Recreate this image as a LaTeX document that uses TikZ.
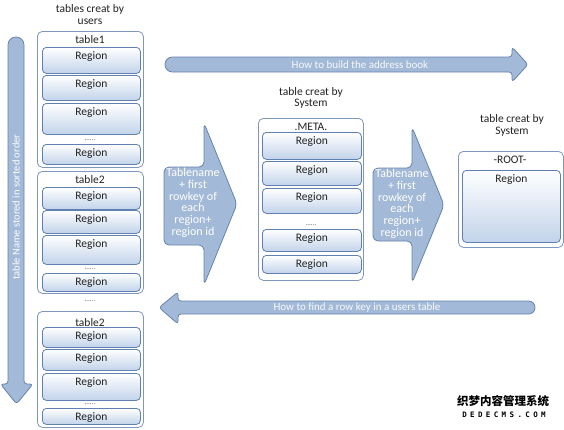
\documentclass[tikz,border=0pt]{standalone}
\usepackage{fontspec}
\setmainfont{Carlito}
\newfontfamily\cjkfont{Noto Sans CJK SC}
\newfontfamily\wmfont[LetterSpace=45]{DejaVu Sans Mono}
\definecolor{arrfill}{HTML}{A3B9D8}
\definecolor{arrdraw}{HTML}{6582AE}
\definecolor{regbot}{HTML}{C2D3EA}
\definecolor{regdraw}{HTML}{5F80B0}
\definecolor{tabdraw}{HTML}{7D97C0}
\definecolor{txt}{HTML}{222222}
\tikzset{
  tabbox/.style={draw=tabdraw, fill=white, rounded corners=5pt, line width=0.8pt, inner sep=0pt, anchor=north west},
  regbox/.style={draw=regdraw, top color=white, bottom color=regbot, rounded corners=4pt, line width=0.8pt, inner sep=0pt, anchor=north west},
  lbl/.style={font=\fontsize{11.5}{12}\selectfont, text=txt, inner sep=0pt},
  dotlbl/.style={font=\fontsize{7}{7}\selectfont, text=txt!80, inner sep=0pt},
  bigarrow/.style={draw=arrdraw, fill=arrfill, line width=0.8pt},
  arrtext/.style={font=\fontsize{12}{11.7}\selectfont, text=white, inner sep=0pt, align=center},
  thintext/.style={font=\fontsize{11}{12}\selectfont, text=white!92!arrfill, inner sep=0pt},
}
\newcommand\tbl[5]{\node[tabbox, minimum width=#4, minimum height=#5] (#1) at (#2,#3) {};}
\newcommand\rgn[5]{\node[regbox, minimum width=#4, minimum height=#5] (#1) at (#2,#3) {};
  \node[lbl] (#1t) at ([yshift=-10pt]#1.north) {Region};}
\begin{document}
\begin{tikzpicture}[x=1pt,y=-1pt]
\useasboundingbox (0,0) rectangle (564,429);

% ---------- left vertical arrow ----------
\draw[bigarrow, rounded corners=7.9pt] (8,200) -- (8,37) -- (24,37) -- (24,200)
  [rounded corners=3pt] -- (24,384) -- (33,384) -- (16.5,404) -- (0.5,384) -- (8,384) -- cycle;
\node[arrtext, font=\fontsize{10.5}{12}\selectfont, rotate=90] (vtext) at (16,207) {table Name stored in sorted order};

% ---------- titles ----------
\node[lbl, align=center] (title1) at (90,15) {tables creat by\\users};
\node[lbl, align=center, font=\fontsize{11.5}{11}\selectfont] (title2) at (311,97.5) {table creat by\\System};
\node[lbl, align=center] (title3) at (512,125) {table creat by\\System};

% ---------- table1 ----------
\tbl{tab1}{37}{31}{106}{136}
\node[lbl] (tab1l) at (90,40) {table1};
\rgn{a1}{42}{47}{98}{26}
\rgn{a2}{42}{75}{98}{25}
\rgn{a3}{42}{103}{98}{31}
\node[dotlbl] (a3d) at (90,140) {......};
\rgn{a4}{42}{144}{98}{20}

% ---------- table2 ----------
\tbl{tab2}{37}{171}{106}{122}
\node[lbl] (tab2l) at (90,180) {table2};
\rgn{b1}{42}{187}{98}{22}
\rgn{b2}{42}{210}{98}{23}
\rgn{b3}{42}{235}{98}{29}
\node[dotlbl] (b3d) at (90,269) {......};
\rgn{b4}{42}{273}{98}{18}

\node[dotlbl] (mdots) at (90,301) {......};

% ---------- table3 ----------
\tbl{tab3}{37}{311}{106}{116}
\node[lbl] (tab3l) at (90,323) {table2};
\rgn{c1}{42}{327}{98}{20}
\rgn{c2}{42}{349}{98}{21}
\rgn{c3}{42}{373}{98}{27}
\node[dotlbl] (c3d) at (90,404) {......};
\rgn{c4}{42}{408}{98}{16}

% ---------- top thin arrow ----------
\draw[bigarrow, rounded corners=7.4pt] (340,57) -- (165,57) -- (165,72) -- (340,72)
  [rounded corners=3pt] -- (512,72) -- (512,82) -- (528,64.5) -- (512,47) -- (512,57) -- cycle;
\node[thintext] (toptext) at (360,64.5) {How to build the address book};

% ---------- bottom thin arrow ----------
\draw[bigarrow, rounded corners=6.4pt] (350,301) -- (535,301) -- (535,314) -- (350,314)
  [rounded corners=3pt] -- (178,314) -- (178,324) -- (159,307.5) -- (178,292) -- (178,301) -- cycle;
\node[thintext] (bottext) at (357,307.5) {How to find a row key in a users table};

% ---------- fat arrow 1 ----------
\draw[bigarrow, rounded corners=5pt] (164,205) -- (164,167) -- (204,167) -- (204,123)
  -- (237,204) -- (204,285) -- (204,245) -- (164,245) -- cycle;
\node[arrtext] (f1text) at (193,203) {Tablename\\+ first\\rowkey of\\each\\region+\\region id};

% ---------- META ----------
\tbl{meta}{258}{118}{105}{162}
\node[lbl] (metal) at (311,127) {.META.};
\rgn{m1}{262}{132}{99}{27}
\rgn{m2}{262}{161}{99}{24}
\rgn{m3}{262}{188}{99}{25}
\node[dotlbl] (m3d) at (311,225) {......};
\rgn{m4}{262}{229}{99}{22}
\rgn{m5}{262}{255}{99}{18}

% ---------- fat arrow 2 ----------
\draw[bigarrow, rounded corners=5pt] (373,205) -- (373,168) -- (412,168) -- (412,127)
  -- (444,205) -- (412,283) -- (412,241) -- (373,241) -- cycle;
\node[arrtext] (f2text) at (402,204) {Tablename\\+ first\\rowkey of\\each\\region+\\region id};

% ---------- ROOT ----------
\tbl{root}{458}{151}{105}{96}
\node[lbl] (rootl) at (510,160) {-ROOT-};
\rgn{r1}{462}{170}{98}{72}

% ---------- watermark ----------
\node[inner sep=0pt, font=\cjkfont\bfseries\fontsize{11.5}{12}\selectfont] (wm1) at (503,401) {织梦内容管理系统};
\node[inner sep=0pt, font=\wmfont\bfseries\fontsize{7.5}{8}\selectfont] (wm2) at (504,414.5) {DEDECMS.COM};
\end{tikzpicture}
\end{document}
